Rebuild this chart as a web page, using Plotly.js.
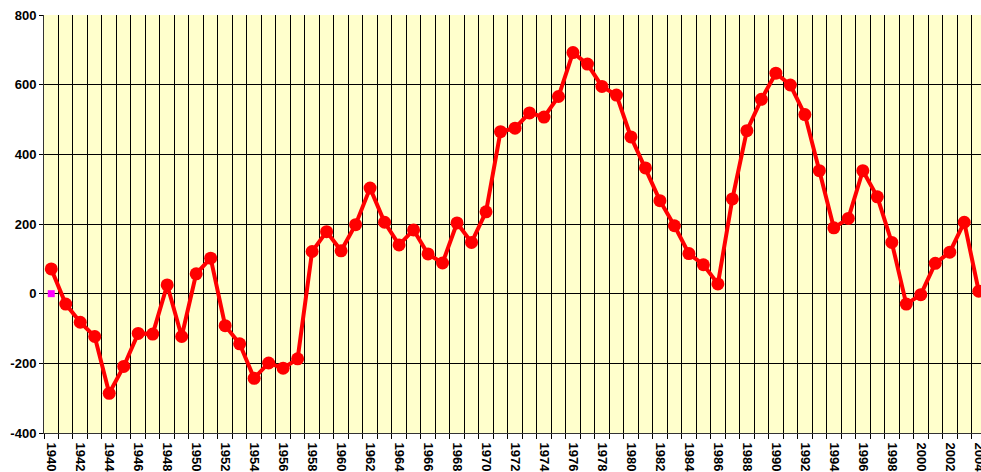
<!DOCTYPE html>
<html>
<head>
<meta charset="utf-8">
<script src="https://cdn.plot.ly/plotly-3.0.1.min.js"></script>
<style>
html,body{margin:0;padding:0;overflow:hidden;background:#fff;}
#chart{width:1000px;height:472px;}
</style>
</head>
<body>
<div id="chart"></div>
<script>
var years = [1940,1941,1942,1943,1944,1945,1946,1947,1948,1949,
             1950,1951,1952,1953,1954,1955,1956,1957,1958,1959,
             1960,1961,1962,1963,1964,1965,1966,1967,1968,1969,
             1970,1971,1972,1973,1974,1975,1976,1977,1978,1979,
             1980,1981,1982,1983,1984,1985,1986,1987,1988,1989,
             1990,1991,1992,1993,1994,1995,1996,1997,1998,1999,
             2000,2001,2002,2003,2004];
var values = [71,-30,-82,-123,-286,-209,-114,-116,25,-123,
              57,102,-92,-144,-243,-199,-214,-187,121,178,
              123,198,303,205,140,183,114,88,203,147,
              235,465,475,519,507,566,692,659,595,570,
              450,361,267,195,115,83,28,272,468,558,
              633,599,514,353,189,216,353,278,147,-30,
              -3,87,119,205,7];
var markerX = [1940];
var markerY = [0];
var yTicks = [-400,-200,0,200,400,600,800];
var yTickLabels = ['-400','-200','0','200','400','600','800'];

var tickFont = {family:'Arial, "Liberation Sans", sans-serif', size:13, color:'#000', weight:700};

var traces = [
  {x:years, y:values, type:'scatter', mode:'lines+markers',
   line:{color:'#ff0000', width:4},
   marker:{color:'#ff0000', size:13, symbol:'circle'},
   hoverinfo:'x+y', showlegend:false, cliponaxis:true},
  {x:markerX, y:markerY, type:'scatter', mode:'markers',
   marker:{color:'#ff00ff', size:7, symbol:'square'},
   showlegend:false}
];

var layout = {
  width:1000, height:472,
  margin:{l:44, r:14, t:15, b:39, pad:0},
  paper_bgcolor:'#ffffff',
  plot_bgcolor:'#ffffcc',
  showlegend:false,
  xaxis:{
    type:'linear', range:[1939.5, 2004.5],
    tickmode:'linear', tick0:1940, dtick:2,
    ticks:'', showgrid:false, zeroline:false,
    tickangle:90, tickfont:tickFont,
    ticklabelstandoff:6,
    showline:true, linecolor:'#333', linewidth:1,
    minor:{tick0:1939.5, dtick:1, ticks:'outside', ticklen:5, tickcolor:'#000',
           showgrid:true, gridcolor:'#000', gridwidth:1}
  },
  yaxis:{
    range:[-400, 800], tickmode:'array', tickvals:yTicks, ticktext:yTickLabels,
    ticks:'outside', ticklen:4, tickcolor:'#000',
    showgrid:true, gridcolor:'#000', gridwidth:1, zeroline:false,
    tickfont:tickFont, showline:true, linecolor:'#333', linewidth:1
  }
};

Plotly.newPlot('chart', traces, layout, {displayModeBar:false, staticPlot:true});
</script>
</body>
</html>
